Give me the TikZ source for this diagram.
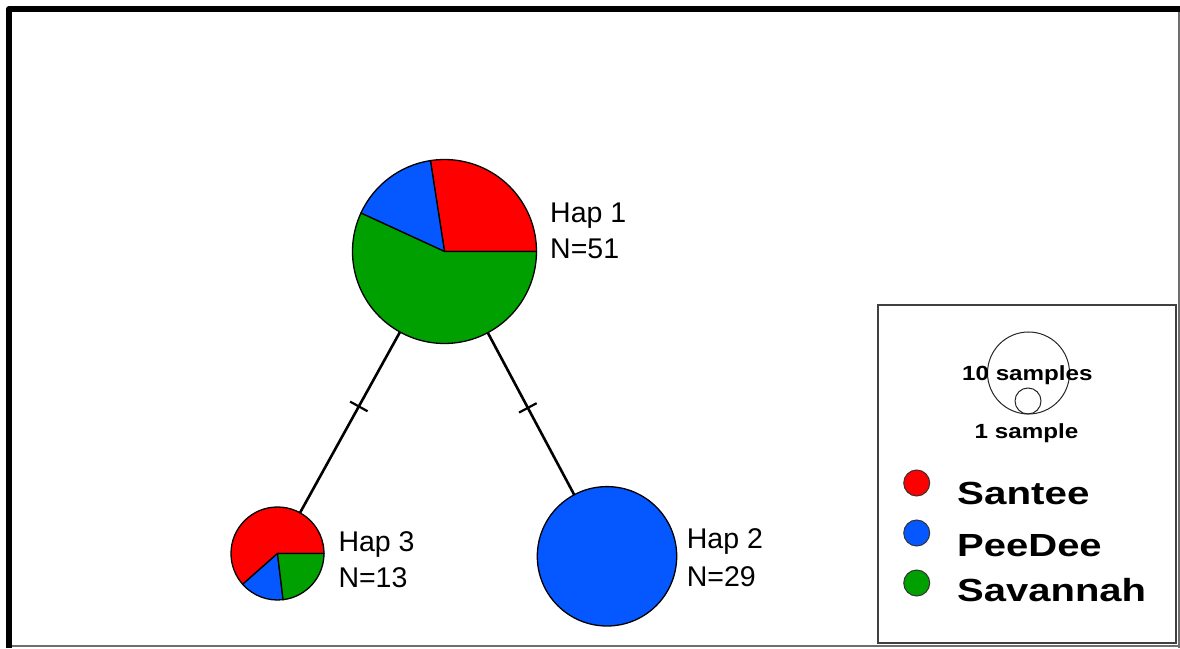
\documentclass[tikz,border=0pt]{standalone}
\usepackage{fontspec}
\setmainfont{Liberation Sans}
\usetikzlibrary{calc}
\definecolor{hapred}{RGB}{255,0,0}
\definecolor{hapblue}{RGB}{5,88,255}
\definecolor{hapgreen}{RGB}{0,160,0}
\definecolor{framegray}{RGB}{110,110,110}
\tikzset{
  slice/.style={draw=black,line width=1.3pt,line join=round},
  link/.style={line width=2.6pt,black},
  ticklink/.style={line width=2.2pt,black},
  haplabel/.style={anchor=base west,inner sep=0pt,font=\fontsize{28.5}{32}\selectfont},
  legtext/.style={anchor=base west,inner sep=0pt,font=\fontsize{32}{36}\selectfont\bfseries},
  sizetext/.style={anchor=base,inner sep=0pt,font=\fontsize{20.5}{24}\selectfont\bfseries},
  legdot/.style={draw=black!80,line width=1pt},
}
\newcommand{\pieslice}[5]{% center, radius, start, end, color
  \draw[slice,fill=#5] (#1) -- ($(#1)+(#3:#2)$) arc[start angle=#3,end angle=#4,radius=#2] -- cycle;}
\begin{document}
\begin{tikzpicture}[x=1pt,y=1pt]
\useasboundingbox (0,0) rectangle (1180,648);
\fill[white] (0,0) rectangle (1180,648);
% frame
\draw[framegray,line width=1.5pt] (1179,636) -- (1179,0);
\draw[framegray,line width=1.5pt] (12,2) -- (1180,2);
\draw[black,line width=6pt,line join=round] (9,0) -- (9,639) -- (1180,639);

% haplotype centres
\coordinate (h1) at (444.5,396.5);
\coordinate (h2) at (607,91.7);
\coordinate (h3) at (277.5,94.5);

% connectors
\draw[link] (h1) -- (h3);
\draw[link] (h1) -- (h2);
\coordinate (t1) at ($(h1)!0.513!(h3)$);
\coordinate (t2) at ($(h1)!0.513!(h2)$);
\draw[ticklink] ($(t1)!10pt!90:(h3)$) -- ($(t1)!10pt!-90:(h3)$);
\draw[ticklink] ($(t2)!10pt!90:(h2)$) -- ($(t2)!10pt!-90:(h2)$);

% Hap 1 pie (N=51: 14 Santee, 8 PeeDee, 29 Savannah)
\pieslice{h1}{92}{0}{98.8}{hapred}
\pieslice{h1}{92}{98.8}{155.3}{hapblue}
\pieslice{h1}{92}{155.3}{360}{hapgreen}
% Hap 3 pie (N=13: 8 Santee, 2 PeeDee, 3 Savannah)
\pieslice{h3}{46.5}{0}{221.5}{hapred}
\pieslice{h3}{46.5}{221.5}{276.9}{hapblue}
\pieslice{h3}{46.5}{276.9}{360}{hapgreen}
% Hap 2 (all PeeDee)
\draw[slice,fill=hapblue] (h2) circle[radius=69.7];

% labels
\node[haplabel] (l1a) at (550,425) {Hap 1};
\node[haplabel] (l1b) at (550,389.7) {N=51};
\node[haplabel] (l3a) at (338.3,96.3) {Hap 3};
\node[haplabel] (l3b) at (338.3,61) {N=13};
\node[haplabel] (l2a) at (686.7,99.7) {Hap 2};
\node[haplabel] (l2b) at (686.7,62) {N=29};

% legend
\draw[black!75,line width=1.5pt] (878,5) rectangle (1176,343);
\draw[black!85,line width=1pt] (1028.5,275) circle[radius=41];
\draw[black!85,line width=1pt] (1028,247) circle[radius=13];
\node[sizetext] (s10) at (1027.4,267.3) {\scalebox{1.18}[1]{10 samples}};
\node[sizetext] (s1) at (1026.5,209.7) {\scalebox{1.18}[1]{1 sample}};

\draw[legdot,fill=hapred] (916.7,165) circle[radius=13];
\draw[legdot,fill=hapblue] (916.7,115) circle[radius=13];
\draw[legdot,fill=hapgreen] (916.7,65) circle[radius=13];
\node[legtext] (ls) at (957,143) {\scalebox{1.26}[1]{Santee}};
\node[legtext] (lp) at (957,91.3) {\scalebox{1.25}[1]{PeeDee}};
\node[legtext] (lv) at (957,47) {\scalebox{1.25}[1]{Savannah}};
\end{tikzpicture}
\end{document}
